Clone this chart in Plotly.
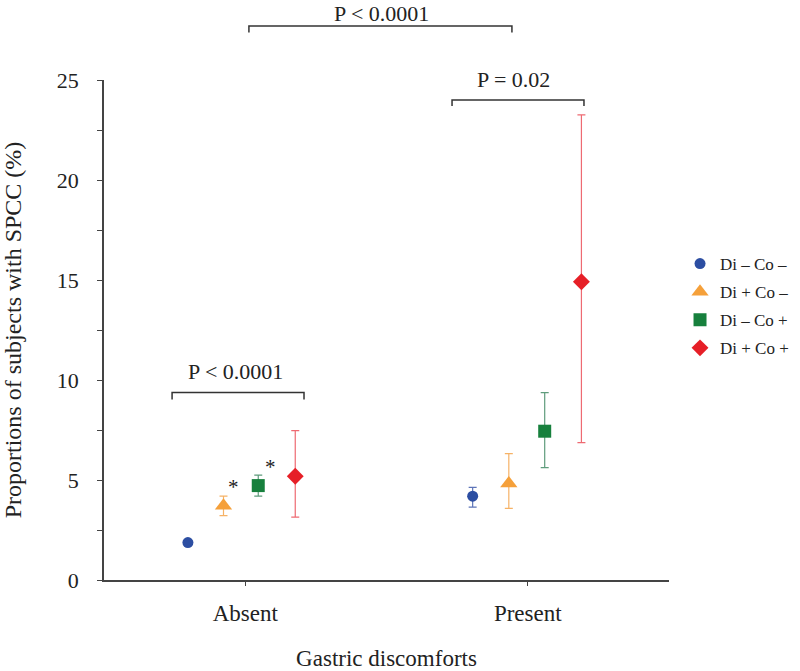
import plotly.graph_objects as go

# ---- data ----
groups = ["Absent", "Present"]
group_pos = [1, 2]
series = ["Di \u2013 Co \u2013", "Di + Co \u2013", "Di \u2013 Co +", "Di + Co +"]
offsets_absent = [-0.203, -0.077, 0.046, 0.177]
offsets_present = [-0.195, -0.067, 0.060, 0.190]
values = {
    "Di \u2013 Co \u2013": [1.87, 4.19],
    "Di + Co \u2013": [3.71, 4.82],
    "Di \u2013 Co +": [4.72, 7.44],
    "Di + Co +": [5.19, 14.91],
}
upper = {
    "Di \u2013 Co \u2013": [1.95, 4.63],
    "Di + Co \u2013": [4.19, 6.32],
    "Di \u2013 Co +": [5.24, 9.37],
    "Di + Co +": [7.47, 23.26],
}
lower = {
    "Di \u2013 Co \u2013": [1.79, 3.64],
    "Di + Co \u2013": [3.22, 3.58],
    "Di \u2013 Co +": [4.19, 5.62],
    "Di + Co +": [3.14, 6.87],
}
y_ticks = [0, 5, 10, 15, 20, 25]
y_range = [0, 25]

# ---- style ----
FONT = "Liberation Serif, Times New Roman, serif"
marker_colors = ["#2c4ea2", "#f5a03a", "#17803d", "#e61f27"]
error_colors = ["#5d74b8", "#f6b266", "#5f9c7c", "#ee6a72"]
symbols = ["circle", "triangle-up", "square", "diamond"]
sizes = [11, 15, 13, 13]

fig = go.Figure()
for i, s in enumerate(series):
    xs = [group_pos[0] + offsets_absent[i], group_pos[1] + offsets_present[i]]
    ys = values[s]
    fig.add_trace(go.Scatter(
        x=xs, y=ys, mode="markers", name=s, legendgroup=s,
        marker=dict(symbol=symbols[i], size=sizes[i], color=marker_colors[i],
                    line=dict(width=0)),
        error_y=dict(type="data", symmetric=False,
                     array=[u - v for u, v in zip(upper[s], ys)],
                     arrayminus=[v - l for v, l in zip(ys, lower[s])],
                     color=error_colors[i], thickness=1.2, width=4),
    ))

def py(v):
    return (v - y_range[0]) / (y_range[1] - y_range[0])

brackets = [
    # x0, x1, y_line, y_end, text, x_text, y_text
    (1.013, 1.944, 27.70, 27.37, "P < 0.0001", 1.484, 28.30),
    (1.732, 2.199, 24.00, 23.70, "P = 0.02", 1.951, 25.05),
    (0.741, 1.208, 9.37, 9.02, "P < 0.0001", 0.967, 10.42),
]
shapes = []
annotations = []
for x0, x1, yl, ye, txt, xt, yt in brackets:
    shapes.append(dict(type="path", xref="x", yref="paper",
                       path=f"M {x0},{py(ye)} L {x0},{py(yl)} L {x1},{py(yl)} L {x1},{py(ye)}",
                       line=dict(color="#333333", width=1.5)))
    annotations.append(dict(x=xt, y=py(yt), xref="x", yref="paper", text=txt,
                            showarrow=False, font=dict(family=FONT, size=22, color="#222222"),
                            xanchor="center", yanchor="middle"))
stars = [(0.960, 4.67), (1.091, 5.67)]
for sx, sy in stars:
    annotations.append(dict(x=sx, y=py(sy), xref="x", yref="paper", text="*",
                            showarrow=False, font=dict(family=FONT, size=21, color="#222222"),
                            xanchor="center", yanchor="middle"))

fig.update_layout(
    width=800, height=671,
    margin=dict(l=104, r=131, t=80, b=91, autoexpand=False),
    paper_bgcolor="white", plot_bgcolor="white",
    font=dict(family=FONT, size=21, color="#222222"),
    showlegend=True,
    legend=dict(x=1.0195, y=0.668, xanchor="left", yanchor="top",
                font=dict(family=FONT, size=17, color="#222222"),
                itemsizing="trace", tracegroupgap=3, bgcolor="rgba(0,0,0,0)"),
    shapes=shapes, annotations=annotations,
)
fig.update_xaxes(
    range=[0.5, 2.5], tickvals=group_pos, ticktext=groups,
    showline=True, linecolor="#444444", linewidth=1.5,
    ticks="outside", ticklen=4, tickcolor="#444444", ticklabelstandoff=8,
    showgrid=False, zeroline=False, automargin=False,
    tickfont=dict(family=FONT, size=23),
    title=dict(text="Gastric discomforts", font=dict(family=FONT, size=23), standoff=27),
)
fig.update_yaxes(
    range=y_range, tickvals=y_ticks,
    showline=True, linecolor="#444444", linewidth=1.5,
    ticks="outside", ticklen=5, tickcolor="#444444", ticklabelstandoff=14,
    minor=dict(dtick=2.5, tick0=0, ticks="outside", ticklen=5, tickcolor="#444444"),
    showgrid=False, zeroline=False, automargin=False,
    tickfont=dict(family=FONT, size=22),
    title=dict(text="Proportions of subjects with SPCC (%)", font=dict(family=FONT, size=24), standoff=33),
)
# remove the default page margin so the 800x671 figure fills the window exactly
fig.write_html("out.html", config={"displayModeBar": False},
               post_script="document.body.style.margin='0';")
